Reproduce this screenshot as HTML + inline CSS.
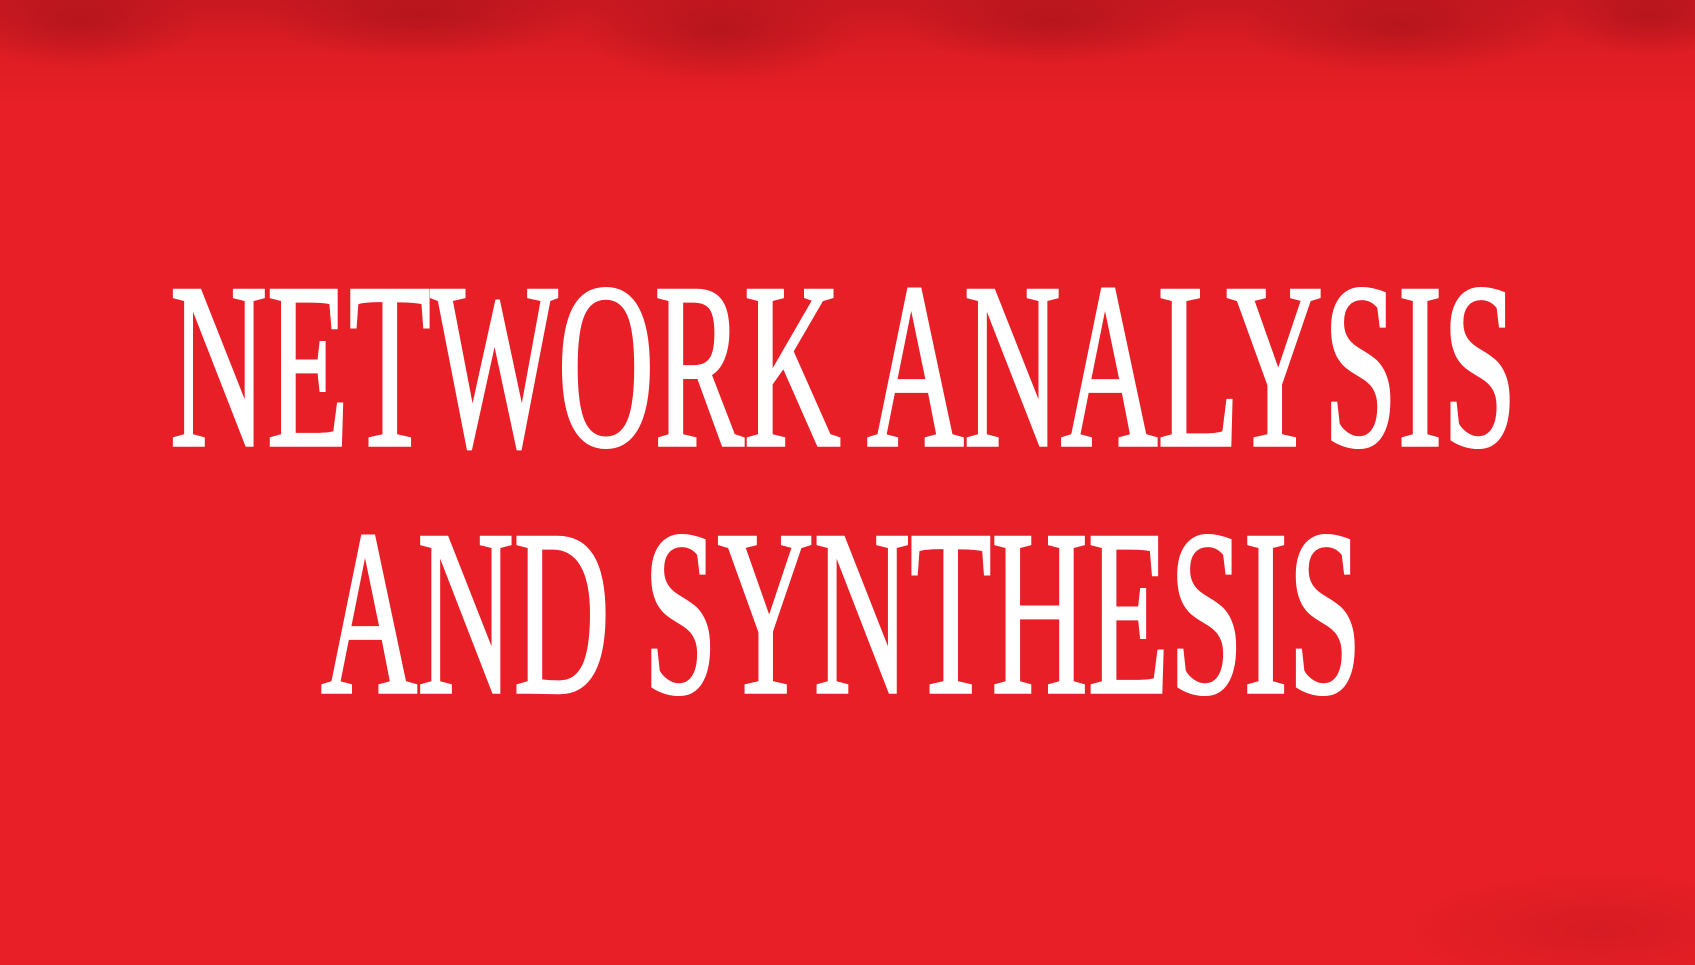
<!DOCTYPE html>
<html><head><meta charset="utf-8"><style>
html,body{margin:0;padding:0;width:1695px;height:965px;overflow:hidden;background:#e81f26;}
svg{display:block}
</style></head><body>
<svg width="1695" height="965" viewBox="0 0 1695 965" xmlns="http://www.w3.org/2000/svg">
<defs>
<linearGradient id="top" x1="0" y1="0" x2="0" y2="1">
<stop offset="0" stop-color="#c81820"/>
<stop offset="0.5" stop-color="#df1d24"/>
<stop offset="1" stop-color="#e81f26"/>
</linearGradient>
<radialGradient id="blob" cx="0.5" cy="0.5" r="0.5">
<stop offset="0" stop-color="#b0141b" stop-opacity="0.8"/>
<stop offset="1" stop-color="#b0141b" stop-opacity="0"/>
</radialGradient>
</defs>
<rect width="1695" height="965" fill="#e81f26"/>
<rect width="1695" height="110" fill="url(#top)"/>
<ellipse cx="80" cy="20" rx="120" ry="50" fill="url(#blob)"/>
<ellipse cx="420" cy="15" rx="160" ry="45" fill="url(#blob)"/>
<ellipse cx="720" cy="30" rx="140" ry="55" fill="url(#blob)"/>
<ellipse cx="1050" cy="20" rx="150" ry="45" fill="url(#blob)"/>
<ellipse cx="1400" cy="25" rx="160" ry="50" fill="url(#blob)"/>
<ellipse cx="1650" cy="15" rx="90" ry="40" fill="url(#blob)"/>
<ellipse cx="1600" cy="930" rx="200" ry="60" fill="url(#blob)" opacity="0.4"/>
<g font-family="'Liberation Serif', serif" fill="#ffffff" stroke="#ffffff" stroke-width="3.5">
<text x="170" y="445" font-size="236" textLength="1347" lengthAdjust="spacingAndGlyphs">NETWORK ANALYSIS</text>
<text x="321" y="692" font-size="236" textLength="1041" lengthAdjust="spacingAndGlyphs">AND SYNTHESIS</text>
</g>
</svg>
</body></html>
